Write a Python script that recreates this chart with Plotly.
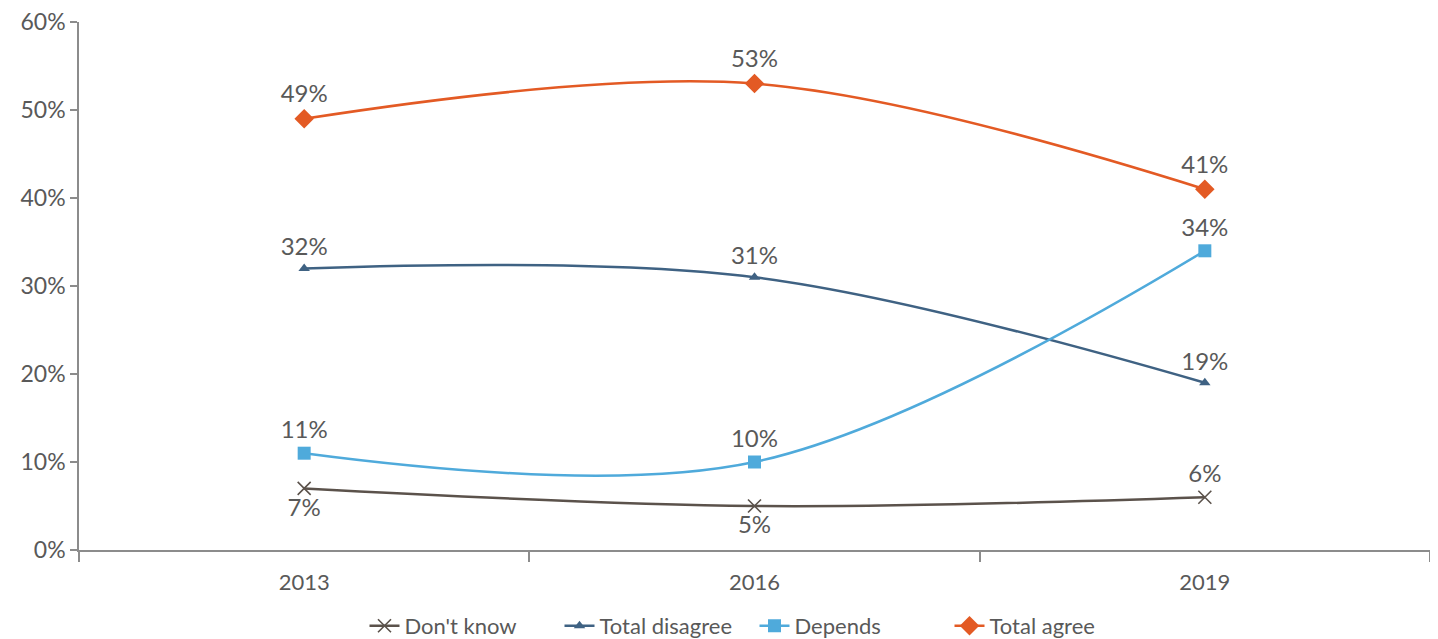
import plotly.graph_objects as go

years = ["2013", "2016", "2019"]
dont_know = [0.07, 0.05, 0.06]
total_disagree = [0.32, 0.31, 0.19]
depends = [0.11, 0.10, 0.34]
total_agree = [0.49, 0.53, 0.41]
y_ticks = [0, 0.1, 0.2, 0.3, 0.4, 0.5, 0.6]

xpos = list(range(len(years)))
font_main = "Lato, Open Sans, sans-serif"
txt_color = "#595959"

def lab(vals):
    return [f"{round(v*100)}%" for v in vals]

fig = go.Figure()
series = [
    ("Don't know", dont_know, "#5b524b", dict(symbol="x-thin-open", size=13, line=dict(width=1.6, color="#5b524b")),
     ["bottom center", "bottom center", "top center"]),
    ("Total disagree", total_disagree, "#3f6283", dict(symbol="triangle-up", size=10),
     ["top center"] * 3),
    ("Depends", depends, "#4faadb", dict(symbol="square", size=13),
     ["top center"] * 3),
    ("Total agree", total_agree, "#e35a24", dict(symbol="diamond", size=15),
     ["top center"] * 3),
]
for name, vals, color, marker, pos in series:
    fig.add_trace(go.Scatter(
        x=xpos, y=vals, name=name, mode="lines+markers+text",
        line=dict(color=color, width=2.5, shape="spline", smoothing=1.0),
        marker=dict(color=color, **marker),
        text=lab(vals), textposition=pos,
        textfont=dict(size=24, color=txt_color, family=font_main),
        cliponaxis=False,
    ))

fig.update_layout(
    width=1430, height=631,
    margin=dict(l=71, r=8, t=14, b=89, autoexpand=False),
    plot_bgcolor="white", paper_bgcolor="white",
    font=dict(family=font_main, color=txt_color, size=22),
    showlegend=True,
    legend=dict(orientation="h", x=0.5, xanchor="center", y=-0.104, yanchor="top",
                font=dict(size=22, family=font_main, color=txt_color),
                entrywidth=150, entrywidthmode="pixels", tracegroupgap=0),
)
fig.update_xaxes(
    range=[-0.5, 2.5], tickvals=xpos, ticktext=years, ticks="", automargin=False,
    showline=True, linecolor="#8c8c8c", linewidth=1.5, showgrid=False, zeroline=False,
    tickfont=dict(size=22, color=txt_color), ticklabelstandoff=12,
    minor=dict(tick0=-0.5, dtick=1, ticks="outside", ticklen=10, tickcolor="#8c8c8c", tickwidth=1.5, showgrid=False),
)
fig.update_yaxes(
    range=[0, 0.6], tickvals=y_ticks, tickformat=".0%", ticks="outside", ticklen=7,
    tickcolor="#8c8c8c", tickwidth=1.5, automargin=False, ticklabeloverflow="allow",
    showline=True, linecolor="#8c8c8c", linewidth=1.5, showgrid=False, zeroline=False,
    tickfont=dict(size=23, color=txt_color),
)

fig.write_html("out.html")
